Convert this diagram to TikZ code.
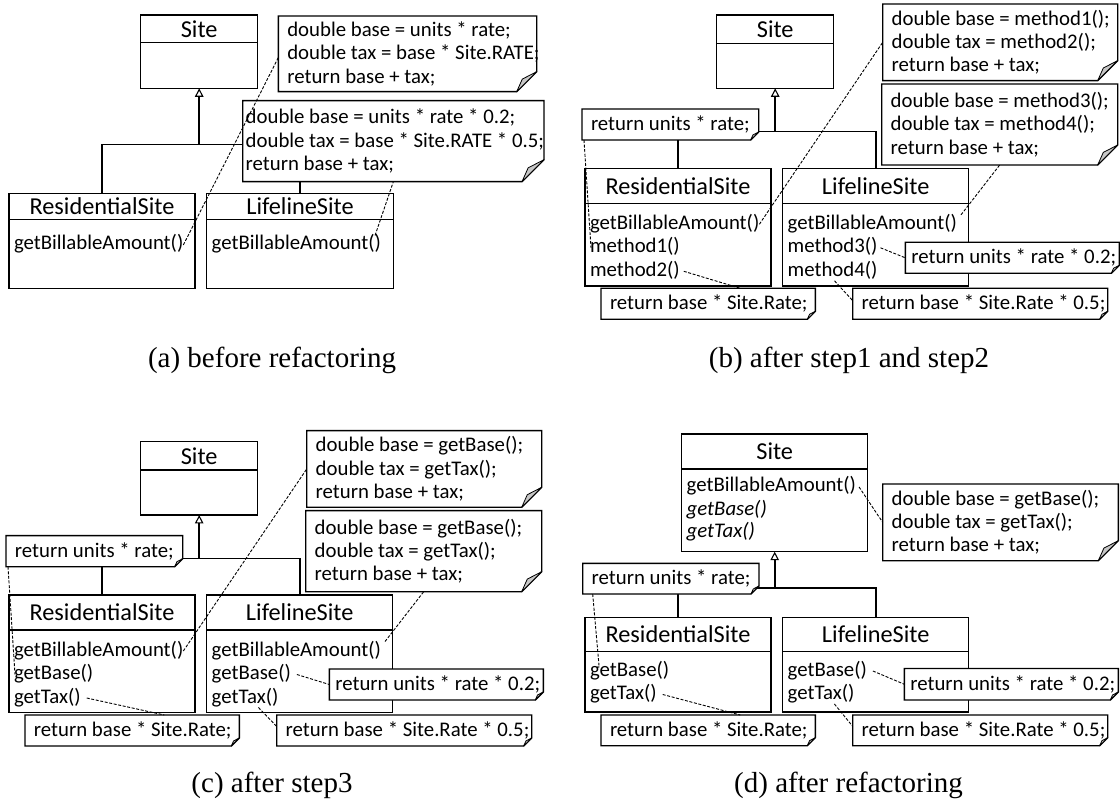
\documentclass[tikz,border=0pt]{standalone}
\usepackage{fontspec}
\setmainfont{Carlito}
\newfontfamily\serifcap{Liberation Serif}
\usetikzlibrary{arrows.meta,calc}

% class box: name, x1, y1, x2, y2, y of divider, title
\newcommand\umlcls[7]{%
  \node[clsbox, minimum width={#4-#2}, minimum height={#5-#3}] (#1) at (#2,#3) {};
  \draw[clsline] (#2,#6) -- (#4,#6);
  \node[cname] (#1-t) at ({(#2+#4)/2},{(#3+#6)/2}) {#7};
}

% note with folded corner: name, x1, y1, x2, y2, fold size, text indent, text
\newcommand\umlnote[8]{%
  \node[noteframe, minimum width={#4-#2}, minimum height={#5-#3}] (#1) at (#2,#3) {};
  \filldraw[noteline] (#1.north west) -- (#1.north east) -- ([yshift=#6pt]#1.south east)
    -- ([xshift=-#6pt]#1.south east) -- (#1.south west) -- cycle;
  \draw[foldfill] ([yshift=#6pt]#1.south east) -- ([xshift={-0.72*#6}, yshift={0.63*#6}]#1.south east)
    -- ([xshift=-#6pt]#1.south east) -- cycle;
  \node[notetext] (#1-t) at ([xshift=#7pt]#1.west) {#8};
}

\begin{document}
\begin{tikzpicture}[x=1pt,y=-1pt,
  clsbox/.style={draw, line width=1.5pt, fill=white, inner sep=0pt, outer sep=0pt, anchor=north west},
  clsline/.style={line width=1.5pt},
  cname/.style={font=\fontsize{24.3}{28}\selectfont, inner sep=0pt},
  member/.style={font=\fontsize{20.8}{23.3}\selectfont, inner sep=0pt, outer sep=0pt, anchor=west,
                 text height=14.5pt, text depth=4.5pt},
  noteframe/.style={inner sep=0pt, outer sep=0pt, anchor=north west},
  notetext/.style={inner sep=0pt, outer sep=0pt, anchor=west, align=left,
                   font=\fontsize{20.8}{23.3}\selectfont},
  noteline/.style={draw, fill=white, line width=1.4pt},
  foldfill/.style={fill=black!22, draw, line width=0.8pt, line join=round},
  genline/.style={line width=1.6pt},
  inherit/.style={genline, -{Triangle[open, length=8.5pt, width=8.5pt, line width=1.1pt]}},
  dashline/.style={line width=0.9pt, dash pattern=on 3pt off 1.6pt},
  subcap/.style={font=\serifcap\fontsize{29}{34}\selectfont, inner sep=0pt, anchor=base}
]
\useasboundingbox (0,0) rectangle (1120,799);

% ---------------- (a) before refactoring ----------------
\umlcls{a-site}{140.7}{15}{257.7}{88.3}{42.7}{Site}
\umlcls{a-res}{9}{193.3}{195}{288.5}{219.3}{ResidentialSite}
\umlcls{a-life}{206.7}{193.3}{393.3}{288.5}{219.3}{LifelineSite}
\coordinate (a-j) at (a-site.south |- 0,144.7);
\draw[genline] (a-res.north) |- (a-j) -| (a-life.north);
\draw[inherit] (a-j) -- (a-site.south);
\umlnote{a-n1}{278.3}{16}{536.7}{91.7}{20}{9}{double base = units * rate;\\double tax = base * Site.RATE;\\return base + tax;}
\umlnote{a-n2}{242.7}{100.7}{544}{181.7}{22}{3}{double base = units * rate * 0.2;\\double tax = base * Site.RATE * 0.5;\\return base + tax;}
\node[member] (a-res-m1) at (14,245) {getBillableAmount()};
\node[member] (a-life-m1) at (211.7,245) {getBillableAmount()};
\draw[dashline] (a-res-m1.east) -- ($(a-n1.north west)!0.55!(a-n1.south west)$);
\draw[dashline] ([xshift=-6pt]a-life-m1.north east) -- (a-n2.south);
\node[subcap] (a-cap) at (272,368) {(a) before refactoring};

% ---------------- (b) after step1 and step2 ----------------
\umlcls{b-site}{716.7}{15}{833.7}{88.3}{43.3}{Site}
\umlcls{b-res}{585}{168.3}{771}{286}{203.3}{ResidentialSite}
\umlcls{b-life}{782.7}{168.3}{968.7}{286}{203.3}{LifelineSite}
\coordinate (b-j) at (b-site.south |- 0,131.6);
\draw[genline] (b-res.north) |- (b-j) -| (b-life.north);
\draw[inherit] (b-j) -- (b-site.south);
\umlnote{b-ru}{582}{109}{758.7}{140}{8}{9}{return units * rate;}
\umlnote{b-n1}{882.7}{4}{1117.7}{80.6}{20}{9}{double base = method1();\\double tax = method2();\\return base + tax;}
\umlnote{b-n2}{881.7}{84}{1117.7}{165}{20}{9}{double base = method3();\\double tax = method4();\\return base + tax;}
\umlnote{b-rbs}{601}{288.3}{815.3}{319.3}{8}{9}{return base * Site.Rate;}
\umlnote{b-ru02}{905.3}{242.3}{1119.3}{273.3}{8}{6}{return units * rate * 0.2;}
\umlnote{b-rbs05}{852.7}{288.3}{1107.7}{319.3}{8}{9}{return base * Site.Rate * 0.5;}
\node[member] (b-res-m1) at (590,224.3) {getBillableAmount()};
\node[member] (b-res-m2) at (590,247.8) {method1()};
\node[member] (b-res-m3) at (590,271.3) {method2()};
\node[member] (b-life-m1) at (787.7,224.3) {getBillableAmount()};
\node[member] (b-life-m2) at (787.7,247.8) {method3()};
\node[member] (b-life-m3) at (787.7,271.3) {method4()};
\draw[dashline] ([xshift=2pt]b-ru.south west) -- ([xshift=1pt]b-res-m2.west);
\draw[dashline] (b-res-m1.east) -- (b-n1.west);
\draw[dashline] ([xshift=4pt]b-res-m3.east) -- ($(b-rbs.north west)!0.65!(b-rbs.north east)$);
\draw[dashline] ([xshift=4pt]b-life-m1.north east) -- (b-n2.south);
\draw[dashline] ([xshift=3pt]b-life-m2.east) -- (b-ru02.west);
\draw[dashline] ([xshift=-43pt]b-life-m3.south east) -- ($(b-rbs05.north west)!0.4!(b-rbs05.south west)$);
\node[subcap] (b-cap) at (849,368) {(b) after step1 and step2};

% ---------------- (c) after step3 ----------------
\umlcls{c-site}{140.7}{441.7}{257.7}{515}{470}{Site}
\umlcls{c-res}{9}{595}{195}{712.7}{630}{ResidentialSite}
\umlcls{c-life}{206.7}{595}{392.7}{712.7}{630}{LifelineSite}
\coordinate (c-j) at (c-site.south |- 0,558.3);
\draw[genline] (c-res.north) |- (c-j) -| (c-life.north);
\draw[inherit] (c-j) -- (c-site.south);
\umlnote{c-ru}{6}{535.7}{182.7}{566.7}{8}{9}{return units * rate;}
\umlnote{c-n1}{306.7}{430.7}{541.7}{507.3}{20}{9}{double base = getBase();\\double tax = getTax();\\return base + tax;}
\umlnote{c-n2}{305.7}{510.7}{541.7}{591.7}{20}{9}{double base = getBase();\\double tax = getTax();\\return base + tax;}
\umlnote{c-rbs}{25}{715}{239.3}{746}{8}{9}{return base * Site.Rate;}
\umlnote{c-ru02}{329.3}{669}{543.3}{700}{8}{6}{return units * rate * 0.2;}
\umlnote{c-rbs05}{276.7}{715}{531.7}{746}{8}{9}{return base * Site.Rate * 0.5;}
\node[member] (c-res-m1) at (14,651) {getBillableAmount()};
\node[member] (c-res-m2) at (14,674.5) {getBase()};
\node[member] (c-res-m3) at (14,698) {getTax()};
\node[member] (c-life-m1) at (211.7,651) {getBillableAmount()};
\node[member] (c-life-m2) at (211.7,674.5) {getBase()};
\node[member] (c-life-m3) at (211.7,698) {getTax()};
\draw[dashline] ([xshift=2pt]c-ru.south west) -- ([xshift=1pt]c-res-m2.west);
\draw[dashline] (c-res-m1.east) -- (c-n1.west);
\draw[dashline] ([xshift=6pt]c-res-m3.east) -- ($(c-rbs.north west)!0.65!(c-rbs.north east)$);
\draw[dashline] ([xshift=4pt]c-life-m1.north east) -- (c-n2.south);
\draw[dashline] ([xshift=6pt]c-life-m2.east) -- (c-ru02.west);
\draw[dashline] ([xshift=-20pt]c-life-m3.south east) -- ($(c-rbs05.north west)!0.37!(c-rbs05.south west)$);
\node[subcap] (c-cap) at (272,792) {(c) after step3};

% ---------------- (d) after refactoring ----------------
\umlcls{d-site}{681.7}{434}{867.7}{551.7}{469}{Site}
\umlcls{d-res}{585}{617.3}{771}{712}{651.7}{ResidentialSite}
\umlcls{d-life}{782.7}{617.3}{968.7}{712}{651.7}{LifelineSite}
\coordinate (d-j) at (d-site.south |- 0,587.7);
\draw[genline] (d-res.north) |- (d-j) -| (d-life.north);
\draw[inherit] (d-j) -- (d-site.south);
\umlnote{d-n}{882.7}{484}{1118.3}{560.7}{20}{9}{double base = getBase();\\double tax = getTax();\\return base + tax;}
\umlnote{d-ru}{582.7}{563.3}{759}{594}{8}{9}{return units * rate;}
\umlnote{d-rbs}{601}{715}{815.3}{745.7}{8}{9}{return base * Site.Rate;}
\umlnote{d-ru02}{904.3}{668.5}{1118.3}{700}{8}{6}{return units * rate * 0.2;}
\umlnote{d-rbs05}{852.7}{715}{1107.7}{745.7}{8}{9}{return base * Site.Rate * 0.5;}
\node[member] (d-site-m1) at (686.7,487) {getBillableAmount()};
\node[member] (d-site-m2) at (686.7,510) {\itshape getBase()};
\node[member] (d-site-m3) at (686.7,533) {\itshape getTax()};
\node[member] (d-res-m1) at (590,671) {getBase()};
\node[member] (d-res-m2) at (590,694.5) {getTax()};
\node[member] (d-life-m1) at (787.7,671) {getBase()};
\node[member] (d-life-m2) at (787.7,694.5) {getTax()};
\draw[dashline] ([xshift=3pt]d-site-m1.east) -- (d-n.west);
\draw[dashline] ([xshift=10pt]d-ru.south west) -- ([xshift=9pt,yshift=-4pt]d-res-m1.north west);
\draw[dashline] ([xshift=6pt]d-res-m2.east) -- ($(d-rbs.north west)!0.65!(d-rbs.north east)$);
\draw[dashline] ([xshift=6pt]d-life-m1.east) -- (d-ru02.west);
\draw[dashline] ([xshift=-20pt]d-life-m2.south east) -- ($(d-rbs05.north west)!0.37!(d-rbs05.south west)$);
\node[subcap] (d-cap) at (848.5,792) {(d) after refactoring};
\end{tikzpicture}
\end{document}
